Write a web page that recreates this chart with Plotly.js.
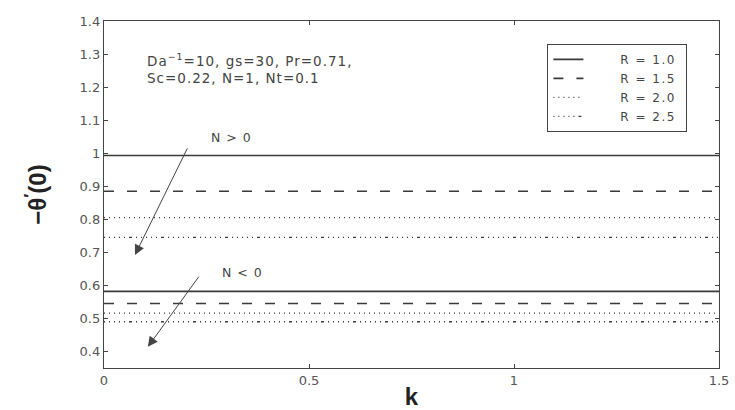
<!DOCTYPE html>
<html>
<head>
<meta charset="utf-8">
<script src="https://cdn.plot.ly/plotly-3.0.1.min.js"></script>
<style>
html,body{margin:0;padding:0;background:#fff;}
#chart{width:735px;height:410px;}
text.annotation-text{letter-spacing:1px;}
text.legendtext{letter-spacing:1.5px;}
</style>
</head>
<body>
<div id="chart"></div>
<script>
// Data
const k = [0, 0.25, 0.5, 0.75, 1.0, 1.25, 1.5];
const seriesNames = ["R = 1.0", "R = 1.5", "R = 2.0", "R = 2.5"];
// N > 0 group
const posR10 = [0.993, 0.993, 0.993, 0.993, 0.993, 0.993, 0.993];
const posR15 = [0.885, 0.885, 0.885, 0.885, 0.885, 0.885, 0.885];
const posR20 = [0.805, 0.805, 0.805, 0.805, 0.805, 0.805, 0.805];
const posR25 = [0.745, 0.745, 0.745, 0.745, 0.745, 0.745, 0.745];
// N < 0 group
const negR10 = [0.582, 0.582, 0.582, 0.582, 0.582, 0.582, 0.582];
const negR15 = [0.545, 0.545, 0.545, 0.545, 0.545, 0.545, 0.545];
const negR20 = [0.516, 0.516, 0.516, 0.516, 0.516, 0.516, 0.516];
const negR25 = [0.490, 0.490, 0.490, 0.490, 0.490, 0.490, 0.490];
const yTicks = [0.4, 0.5, 0.6, 0.7, 0.8, 0.9, 1, 1.1, 1.2, 1.3, 1.4];
const yTickText = ["0.4", "0.5", "0.6", "0.7", "0.8", "0.9", "1", "1.1", "1.2", "1.3", "1.4"];
const xTicks = [0, 0.5, 1, 1.5];
const xTickText = ["0", "0.5", "1", "1.5"];

const lineColor = "#3a3a3a";
const dashes = ["solid", "10px,13px", "1px,4px", "1px,4px,1px,4px,1px,4px,1px,4px,1px,4px,3px,4px"];
const widths = [1.6, 1.6, 1.2, 1.3];
const posSets = [posR10, posR15, posR20, posR25];
const negSets = [negR10, negR15, negR20, negR25];
const pad = "\u00a0\u00a0\u00a0\u00a0\u00a0\u00a0";

const traces = [];
posSets.forEach((ys, i) => {
  traces.push({x: k, y: ys, type: "scatter", mode: "lines", name: pad + seriesNames[i] + "\u00a0",
    line: {color: lineColor, width: widths[i], dash: dashes[i]}, showlegend: true});
});
negSets.forEach((ys, i) => {
  traces.push({x: k, y: ys, type: "scatter", mode: "lines", name: seriesNames[i],
    line: {color: lineColor, width: widths[i], dash: dashes[i]}, showlegend: false});
});

const fontFam = "DejaVu Sans, Liberation Sans, Arial, sans-serif";
const layout = {
  width: 735, height: 410,
  margin: {l: 104, r: 16, t: 21, b: 42},
  paper_bgcolor: "#fff", plot_bgcolor: "#fff",
  font: {family: fontFam, size: 12, color: "#444"},
  xaxis: {
    range: [0, 1.5], tickvals: xTicks, ticktext: xTickText,
    ticks: "inside", ticklen: 4, tickcolor: "#444", mirror: "ticks",
    showline: true, linecolor: "#444", linewidth: 1.2, showgrid: false, zeroline: false,
    tickfont: {size: 13, color: "#555"},
    title: {text: "<b>k</b>", font: {family: "Liberation Sans, Arial, sans-serif", size: 24, color: "#222"}, standoff: 6}
  },
  yaxis: {
    range: [0.35, 1.4], tickvals: yTicks, ticktext: yTickText,
    ticks: "inside", ticklen: 4, tickcolor: "#444", mirror: "ticks",
    showline: true, linecolor: "#444", linewidth: 1.2, showgrid: false, zeroline: false,
    tickfont: {size: 13, color: "#555"},
    title: {text: "<b>−θ<sup>′</sup>(0)</b>", font: {family: "Liberation Sans, Arial, sans-serif", size: 24, color: "#222"}, standoff: 26}
  },
  legend: {
    x: 0.721, y: 0.934, xanchor: "left", yanchor: "top",
    bgcolor: "#fff", bordercolor: "#444", borderwidth: 1,
    font: {size: 12, color: "#444"}, tracegroupgap: 0
  },
  showlegend: true,
  annotations: [
    {x: 0.1, y: 1.256, xref: "x", yref: "y", xanchor: "left", yanchor: "middle", align: "left",
     text: "Da<sup>−1</sup>=10, gs=30, Pr=0.71,<br>Sc=0.22, N=1, Nt=0.1", showarrow: false,
     font: {size: 13.5, color: "#444"}},
    {x: 0.312, y: 1.046, xref: "x", yref: "y", text: "N &gt; 0", showarrow: false,
     font: {size: 12.5, color: "#444"}},
    {x: 0.337, y: 0.638, xref: "x", yref: "y", text: "N &lt; 0", showarrow: false,
     font: {size: 12.5, color: "#444"}},
    {x: 0.0756, y: 0.692, ax: 0.205, ay: 1.019, xref: "x", yref: "y", axref: "x", ayref: "y",
     text: "", showarrow: true, arrowhead: 2, arrowsize: 2, arrowwidth: 1, arrowcolor: "#444"},
    {x: 0.107, y: 0.414, ax: 0.234, ay: 0.631, xref: "x", yref: "y", axref: "x", ayref: "y",
     text: "", showarrow: true, arrowhead: 2, arrowsize: 2, arrowwidth: 1, arrowcolor: "#444"}
  ]
};

Plotly.newPlot("chart", traces, layout, {displayModeBar: false, staticPlot: true});
</script>
</body>
</html>
